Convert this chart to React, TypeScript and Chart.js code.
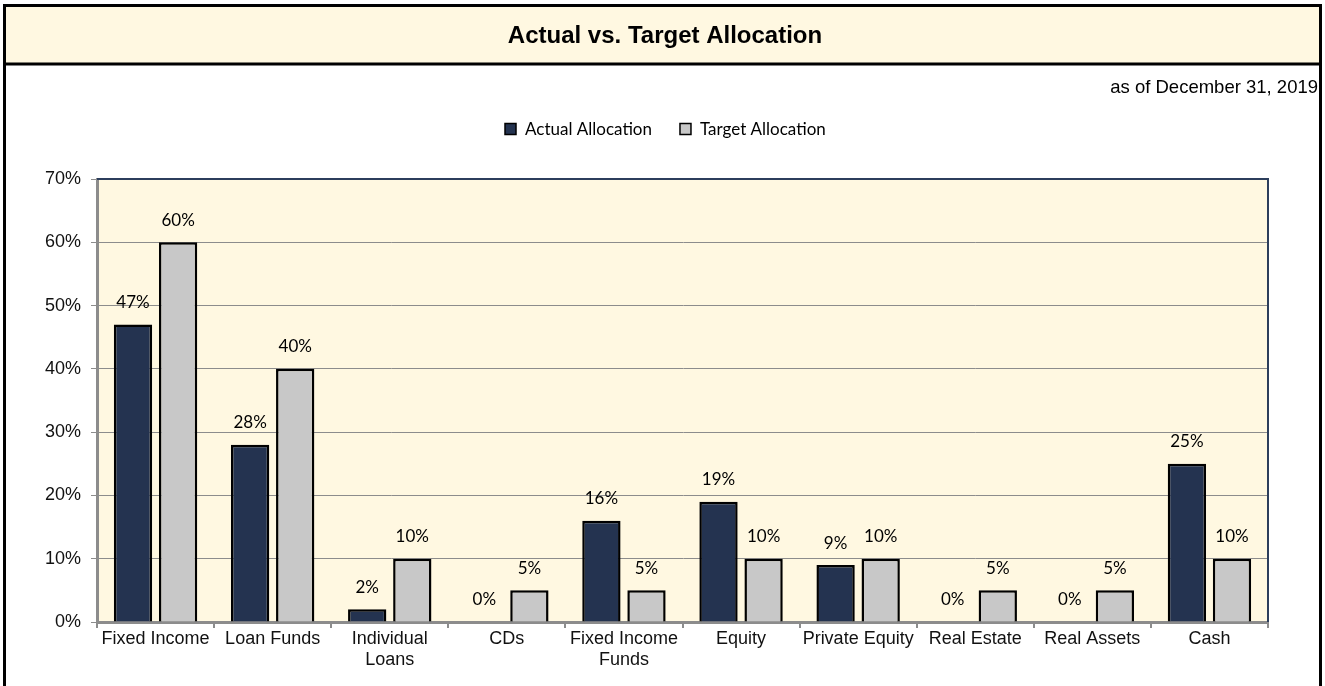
import React, { useEffect, useRef } from "react";
import { Chart, registerables } from "chart.js";

Chart.register(...registerables);

const categories: (string | string[])[] = [
  "Fixed Income",
  "Loan Funds",
  ["Individual", "Loans"],
  "CDs",
  ["Fixed Income", "Funds"],
  "Equity",
  "Private Equity",
  "Real Estate",
  "Real Assets",
  "Cash",
];
const actualAllocation = [47, 28, 2, 0, 16, 19, 9, 0, 0, 25];
const targetAllocation = [60, 40, 10, 5, 5, 10, 10, 5, 5, 10];
const seriesNames = ["Actual Allocation", "Target Allocation"];
const yTicks = [0, 10, 20, 30, 40, 50, 60, 70];
const titleText = "Actual vs. Target Allocation";
const subtitleText = "as of December 31, 2019";

const NAVY = "#243350";
const LIGHT = "#C8C8C8";
const BEIGE = "#FFF8E1";
const W = 1325;
const H = 686;
const LABEL_FONT = "Lato, 'Open Sans', sans-serif";
const ARIAL = "'Liberation Sans', Arial, sans-serif";

const framePlugin = {
  id: "frame",
  beforeDraw(chart: any) {
    const { ctx, chartArea } = chart;
    ctx.save();
    ctx.fillStyle = "#ffffff";
    ctx.fillRect(0, 0, W, H);
    ctx.fillStyle = BEIGE;
    ctx.fillRect(5, 6, 1316, 58);
    ctx.fillStyle = BEIGE;
    ctx.fillRect(chartArea.left, chartArea.top, chartArea.right - chartArea.left, chartArea.bottom - chartArea.top);
    ctx.restore();
  },
  afterDraw(chart: any) {
    const { ctx, chartArea } = chart;
    ctx.save();
    ctx.strokeStyle = "#000";
    ctx.lineWidth = 3;
    ctx.beginPath();
    ctx.moveTo(4.5, H + 5);
    ctx.lineTo(4.5, 5.5);
    ctx.lineTo(1320.5, 5.5);
    ctx.lineTo(1320.5, H + 5);
    ctx.stroke();
    ctx.beginPath();
    ctx.moveTo(4, 64);
    ctx.lineTo(1321, 64);
    ctx.stroke();
    ctx.fillStyle = "#000";
    ctx.font = "bold 24px " + ARIAL;
    ctx.textAlign = "center";
    ctx.textBaseline = "middle";
    ctx.fillText(titleText, 665, 36);
    ctx.font = "18.5px " + ARIAL;
    ctx.textAlign = "right";
    ctx.fillText(subtitleText, 1318, 88);
    ctx.font = "17px " + LABEL_FONT;
    ctx.textAlign = "left";
    const colors = [NAVY, LIGHT];
    const box = 11;
    const gap = 9;
    const itemGap = 28;
    const widths = seriesNames.map((n) => ctx.measureText(n).width);
    let x = 505;
    const y = 129;
    seriesNames.forEach((n, i) => {
      ctx.fillStyle = colors[i];
      ctx.fillRect(x, y - box / 2, box, box);
      ctx.strokeStyle = "#000";
      ctx.lineWidth = 1.5;
      ctx.strokeRect(x, y - box / 2, box, box);
      ctx.fillStyle = "#000";
      ctx.fillText(n, x + box + gap, y + 1);
      x += box + gap + widths[i] + itemGap;
    });
    ctx.strokeStyle = "#2C3E5C";
    ctx.lineWidth = 2;
    ctx.beginPath();
    ctx.moveTo(chartArea.left, chartArea.top);
    ctx.lineTo(chartArea.right, chartArea.top);
    ctx.lineTo(chartArea.right, chartArea.bottom);
    ctx.stroke();
    ctx.restore();
  },
  afterDatasetsDraw(chart: any) {
    const { ctx } = chart;
    ctx.save();
    ctx.font = "17px " + LABEL_FONT;
    ctx.fillStyle = "#000";
    ctx.textAlign = "center";
    ctx.textBaseline = "middle";
    chart.data.datasets.forEach((ds: any, di: number) => {
      const meta = chart.getDatasetMeta(di);
      meta.data.forEach((bar: any, i: number) => {
        ctx.fillText(ds.data[i] + "%", bar.x, bar.y - 22);
      });
    });
    ctx.restore();
  },
};

export default function App() {
  const ref = useRef<HTMLCanvasElement>(null);
  useEffect(() => {
    if (!ref.current) return;
    const chart = new Chart(ref.current, {
      type: "bar",
      data: {
        labels: categories as any,
        datasets: [
          {
            label: seriesNames[0],
            data: actualAllocation,
            backgroundColor: NAVY,
            borderColor: "#000",
            borderWidth: 2.5,
            borderSkipped: "bottom",
            barPercentage: 0.85,
            categoryPercentage: 0.77,
          },
          {
            label: seriesNames[1],
            data: targetAllocation,
            backgroundColor: LIGHT,
            borderColor: "#000",
            borderWidth: 2.5,
            borderSkipped: "bottom",
            barPercentage: 0.85,
            categoryPercentage: 0.77,
          },
        ],
      },
      options: {
        responsive: false,
        animation: false,
        layout: { padding: { left: 0, top: 179, right: W - 1268, bottom: 0 } },
        plugins: { legend: { display: false }, title: { display: false }, tooltip: { enabled: false } },
        scales: {
          x: {
            afterFit: (s: any) => {
              s.height = H - 622;
            },
            grid: { offset: true, drawOnChartArea: false, color: "#8C8C8C", tickLength: 6, lineWidth: 2 },
            border: { color: "#8C8C8C", width: 3 },
            ticks: {
              color: "#111",
              font: { family: ARIAL, size: 18, lineHeight: 1.2 },
              maxRotation: 0,
              autoSkip: false,
              padding: 0,
            },
          },
          y: {
            min: 0,
            max: 70,
            afterFit: (s: any) => {
              s.width = 97;
            },
            afterBuildTicks: (s: any) => {
              s.ticks = yTicks.map((v) => ({ value: v }));
            },
            grid: { color: "#8C8C8C", lineWidth: 1, tickLength: 6, drawTicks: true },
            border: { color: "#8C8C8C", width: 3 },
            ticks: {
              color: "#111",
              font: { family: ARIAL, size: 18 },
              padding: 10,
              callback: (v: any) => v + "%",
            },
          },
        },
      },
      plugins: [framePlugin],
    });
    return () => chart.destroy();
  }, []);
  return (
    <div style={{ position: "fixed", left: 0, top: 0, width: W, height: H }}>
      <canvas ref={ref} width={W} height={H} style={{ display: "block" }} />
    </div>
  );
}
